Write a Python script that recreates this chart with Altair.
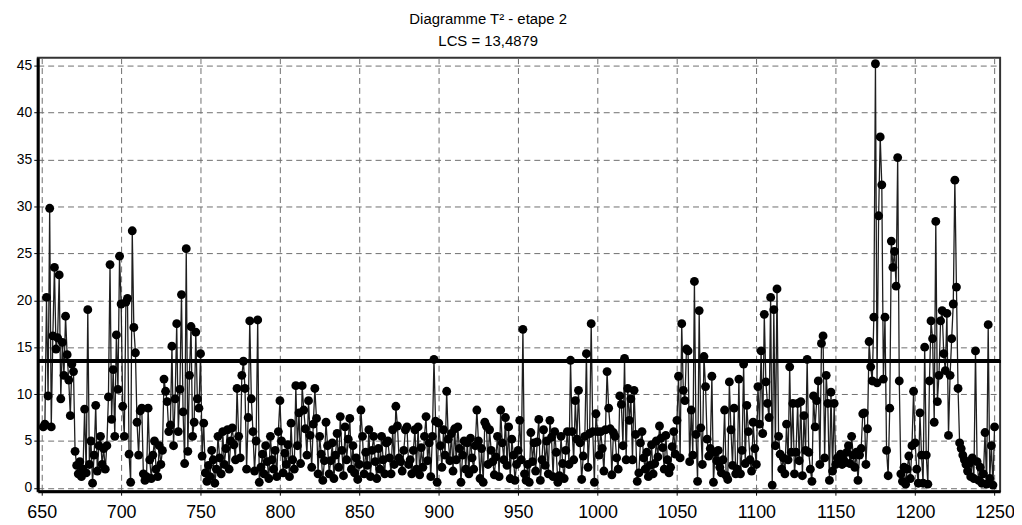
import altair as alt
import pandas as pd

# T² values, one per sample, in blocks of 50 samples (start index given)
s651 = [6.5, 6.8, 20.3, 9.8, 29.8, 6.5, 16.2, 23.5, 14.8, 16.0,
        22.7, 9.5, 15.5, 12.0, 18.3, 14.2, 11.5, 7.7, 13.2, 12.4,
        3.9, 2.4, 1.5, 2.8, 1.2, 2.0, 8.4, 1.6, 19.0, 2.5,
        5.0, 0.5, 3.5, 8.8, 1.8, 4.5, 5.5, 2.5, 4.2, 2.0,
        4.5, 9.7, 23.8, 7.3, 12.6, 5.5, 16.3, 10.5, 24.7, 19.6]
s701 = [8.7, 5.5, 19.8, 20.2, 3.6, 0.6, 27.4, 17.1, 14.4, 7.0,
        3.5, 8.2, 8.5, 1.5, 0.8, 1.2, 8.5, 3.0, 1.0, 3.5,
        5.0, 2.0, 1.2, 4.5, 2.5, 4.0, 11.6, 10.3, 9.2, 6.0,
        6.7, 15.1, 4.5, 9.5, 17.5, 6.0, 10.5, 20.6, 8.1, 2.6,
        25.5, 3.9, 12.0, 17.2, 5.5, 7.0, 16.6, 9.5, 8.5, 14.3]
s751 = [3.4, 6.9, 1.6, 0.7, 2.4, 1.2, 4.0, 3.0, 0.5, 2.0,
        5.5, 3.2, 1.5, 6.0, 2.5, 4.2, 6.2, 2.0, 5.0, 6.4,
        4.6, 3.0, 10.6, 5.5, 3.2, 12.0, 13.5, 10.6, 2.0, 7.5,
        17.8, 9.5, 6.0, 1.8, 5.0, 17.9, 0.6, 2.2, 3.6, 1.5,
        4.5, 2.8, 1.0, 5.5, 3.0, 2.0, 4.0, 1.2, 6.0, 9.3]
s801 = [5.0, 1.6, 3.7, 2.5, 4.6, 1.2, 6.9, 3.0, 2.0, 10.9,
        4.5, 8.0, 2.6, 10.9, 8.3, 6.3, 3.5, 9.3, 5.6, 2.2,
        6.8, 10.6, 7.4, 1.5, 5.5, 3.6, 0.8, 2.9, 7.0, 4.5,
        1.5, 2.9, 4.8, 1.0, 3.5, 5.8, 2.2, 7.6, 4.0, 1.3,
        6.5, 3.0, 5.2, 7.4, 2.0, 4.5, 1.6, 3.2, 0.9, 2.5]
s851 = [8.3, 5.5, 1.5, 3.8, 2.4, 6.2, 1.2, 4.0, 5.5, 2.8,
        1.0, 4.2, 2.0, 5.5, 3.0, 1.5, 4.8, 5.0, 3.2, 1.5,
        6.2, 2.5, 8.7, 6.6, 3.2, 2.8, 1.8, 4.0, 6.2, 6.5,
        2.5, 3.0, 1.5, 4.0, 6.2, 2.0, 6.5, 1.4, 4.3, 2.2,
        5.5, 7.6, 2.9, 4.8, 1.2, 5.5, 13.7, 7.1, 0.6, 6.9]
s901 = [4.5, 2.2, 6.2, 3.5, 10.3, 5.2, 2.9, 5.8, 1.8, 6.3,
        3.0, 6.5, 4.2, 0.6, 3.5, 5.0, 2.0, 4.8, 1.5, 5.3,
        3.2, 2.0, 4.5, 8.3, 5.0, 1.0, 4.2, 0.6, 7.0, 6.6,
        2.5, 6.2, 4.0, 2.8, 1.4, 3.3, 5.5, 1.2, 8.3, 4.8,
        3.0, 7.5, 2.4, 6.5, 1.0, 5.2, 3.5, 0.8, 2.5, 4.0]
s951 = [7.2, 3.0, 16.9, 1.5, 0.8, 2.5, 0.6, 5.9, 2.8, 4.8,
        1.8, 4.9, 7.3, 0.8, 3.0, 6.2, 2.4, 5.0, 1.5, 7.2,
        5.4, 1.2, 6.0, 3.8, 0.6, 1.3, 5.5, 2.6, 1.0, 4.0,
        6.0, 2.5, 13.6, 6.0, 3.0, 9.3, 5.2, 10.4, 4.8, 0.9,
        3.4, 5.5, 14.3, 2.2, 5.8, 17.5, 6.0, 0.6, 7.9, 6.0]
s1001 = [3.5, 6.0, 4.2, 1.8, 6.2, 12.4, 8.5, 6.3, 1.4, 5.9,
         5.5, 3.2, 2.0, 9.8, 8.9, 4.5, 13.8, 3.0, 10.6, 7.2,
         9.5, 3.0, 10.4, 5.7, 0.7, 1.6, 4.8, 6.0, 3.2, 2.0,
         3.8, 1.2, 2.4, 4.6, 1.5, 2.6, 5.0, 3.3, 6.6, 5.3,
         4.3, 2.0, 5.6, 3.0, 1.6, 2.2, 4.4, 6.0, 3.6, 7.2]
s1051 = [11.9, 3.2, 17.5, 10.4, 9.3, 14.8, 14.6, 2.8, 8.3, 3.5,
         22.0, 5.7, 0.7, 18.9, 6.4, 2.5, 14.0, 10.8, 5.2, 3.4,
         4.2, 11.9, 0.6, 3.8, 2.9, 4.0, 2.2, 1.6, 3.0, 8.3,
         1.3, 0.9, 11.3, 6.2, 2.4, 8.5, 1.5, 2.0, 11.6, 1.5,
         4.0, 13.2, 2.6, 8.8, 6.0, 3.0, 1.8, 7.0, 4.2, 2.5]
s1101 = [10.8, 6.8, 14.6, 5.8, 18.5, 11.3, 9.0, 7.5, 20.3, 0.3,
         19.0, 4.5, 21.2, 5.5, 3.6, 2.0, 3.2, 1.5, 6.8, 3.0,
         12.9, 3.8, 9.0, 1.5, 3.8, 9.0, 2.9, 9.2, 1.3, 7.7,
         4.0, 13.7, 3.8, 2.0, 0.7, 9.8, 6.5, 9.3, 11.4, 2.5,
         15.4, 16.2, 3.2, 12.0, 9.0, 0.8, 10.2, 1.8, 9.0, 2.5]
s1151 = [3.2, 2.8, 3.6, 2.5, 3.0, 2.7, 3.8, 4.5, 2.6, 5.5,
         3.5, 2.2, 3.8, 0.8, 3.5, 4.2, 7.9, 8.0, 2.5, 6.3,
         15.6, 12.9, 11.4, 18.2, 45.2, 11.2, 29.0, 37.4, 32.3, 11.6,
         18.2, 4.0, 1.3, 8.5, 26.3, 23.5, 25.2, 21.5, 35.2, 11.4,
         1.5, 0.7, 2.2, 0.4, 2.0, 3.4, 1.0, 4.5, 10.3, 4.8]
s1201 = [2.0, 0.5, 8.0, 3.5, 0.5, 15.0, 3.5, 0.4, 11.4, 17.8,
         15.9, 7.0, 28.4, 9.2, 12.0, 17.8, 18.9, 14.3, 12.5, 18.6,
         5.6, 12.0, 15.9, 19.6, 32.8, 21.4, 10.6, 4.8, 4.2, 3.5,
         3.0, 2.5, 1.8, 2.6, 1.2, 3.2, 1.0, 14.6, 2.8, 0.8,
         2.2, 0.5, 1.5, 5.9, 0.4, 17.4, 1.0, 4.5, 0.3, 6.5]

blocks = [(651, s651), (701, s701), (751, s751), (801, s801), (851, s851),
          (901, s901), (951, s951), (1001, s1001), (1051, s1051),
          (1101, s1101), (1151, s1151), (1201, s1201)]

x_ticks = [650, 700, 750, 800, 850, 900, 950, 1000, 1050, 1100, 1150, 1200, 1250]
y_ticks = [0, 5, 10, 15, 20, 25, 30, 35, 40, 45]
lcs = 13.4879
title_lines = ["Diagramme T² - etape 2", "LCS = 13,4879"]

rows = []
for start, vals in blocks:
    for i, v in enumerate(vals):
        rows.append({"obs": start + i, "t2": v})
df = pd.DataFrame(rows)

FONT = "Liberation Sans"

xenc = alt.X("obs:Q", scale=alt.Scale(domain=[647.5, 1253.5], nice=False, zero=False),
             axis=alt.Axis(values=x_ticks, title=None, labelFontSize=18, labelPadding=8,
                           format="d"))
yenc = alt.Y("t2:Q", scale=alt.Scale(domain=[-0.35, 45.85], nice=False, zero=False),
             axis=alt.Axis(values=y_ticks, title=None, labelFontSize=14, labelPadding=2))

base = alt.Chart(df).encode(x=xenc, y=yenc)
line = base.mark_line(color="#1e1e1e", strokeWidth=1.3)
pts = base.mark_circle(size=80, color="black", opacity=1)
rule = alt.Chart(df).mark_rule(color="black", strokeWidth=3).encode(y=alt.datum(lcs))

chart = alt.layer(line, pts, rule).properties(
    width=970, height=437,
    background="white",
    autosize=alt.AutoSizeParams(type="none"),
    padding={"left": 30, "top": 48, "right": 14, "bottom": 32},
    title=alt.TitleParams(title_lines, font=FONT, fontSize=15, fontWeight="normal",
                          color="black", anchor="middle", dx=-31, offset=9, lineHeight=22),
).configure_axis(
    labelFont=FONT, labelColor="black",
    grid=True, gridColor="#6e6e6e", gridDash=[6, 4], gridWidth=1,
    domainColor="black", domainWidth=3,
    tickColor="black", tickSize=4, tickWidth=1,
).configure_view(
    stroke="#333333", strokeWidth=2
)

chart.save("out.html", embed_options={"renderer": "svg", "actions": False})
